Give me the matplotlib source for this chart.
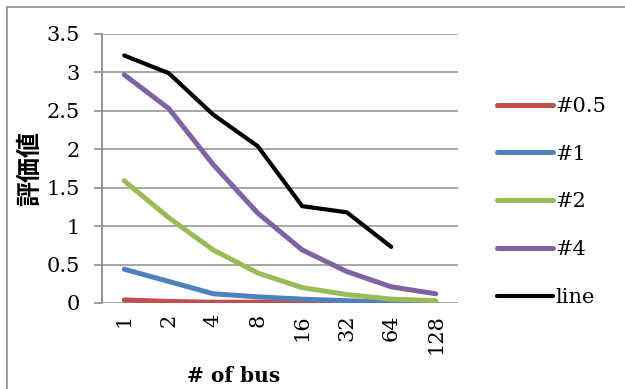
"""Evaluation value versus bus count for each setting."""

import matplotlib

matplotlib.use("Agg")
import matplotlib.pyplot as plt
from matplotlib.patches import Rectangle

bus_counts = ["1", "2", "4", "8", "16", "32", "64", "128"]
series_names = ["#0.5", "#1", "#2", "#4", "line"]
values_05 = [0.04, 0.02, 0.01, 0.01, 0.0, 0.0, 0.0, 0.0]
values_1 = [0.44, 0.28, 0.12, 0.08, 0.05, 0.03, 0.01, 0.01]
values_2 = [1.59, 1.11, 0.69, 0.39, 0.20, 0.11, 0.05, 0.03]
values_4 = [2.97, 2.53, 1.80, 1.17, 0.69, 0.41, 0.21, 0.12]
values_line = [3.22, 2.99, 2.45, 2.04, 1.26, 1.18, 0.73]

colors = ["#C0504D", "#4F81BD", "#9BBB59", "#8064A2", "#000000"]
widths = [3.6, 3.6, 3.6, 3.6, 3.0]

plt.rcParams["font.family"] = ["DejaVu Serif"]

fig = plt.figure(figsize=(6.25, 3.89), dpi=100)
ax = fig.add_axes([0.1632, 0.2211, 0.5696, 0.6915])

all_values = [values_05, values_1, values_2, values_4, values_line]
for name, vals, color, lw in zip(series_names, all_values, colors, widths):
    ax.plot(range(len(vals)), vals, color=color, lw=lw, label=name,
            solid_capstyle="round", solid_joinstyle="round", zorder=3)

ax.set_xlim(-0.5, len(bus_counts) - 0.5)
ax.set_ylim(0, 3.5)
ax.set_yticks([0, 0.5, 1, 1.5, 2, 2.5, 3, 3.5])
ax.set_yticklabels(["0", "0.5", "1", "1.5", "2", "2.5", "3", "3.5"], fontsize=15)
ax.set_xticks(range(len(bus_counts)))
ax.set_xticklabels(bus_counts, rotation=90, fontsize=15)
ax.tick_params(axis="x", length=0, pad=8)
ax.tick_params(axis="y", length=6, width=1.2, color="#8c8c8c", pad=10)

ax.grid(axis="y", color="#a0a0a0", lw=1.3, zorder=0)
for side in ["top", "right", "bottom"]:
    ax.spines[side].set_visible(False)
ax.spines["left"].set_color("#8c8c8c")
ax.spines["left"].set_linewidth(1.3)

fig.text(0.374, 0.033, "# of bus", ha="center", va="center",
         fontsize=14.5, fontweight="bold")
fig.text(0.048, 0.568, "評価値", ha="center", va="center", rotation=90,
         fontsize=18, fontweight="bold",
         family=["Noto Sans CJK JP", "DejaVu Sans"])

ax.legend(loc="center left", bbox_to_anchor=(0.795, 0.481),
          bbox_transform=fig.transFigure, frameon=False, fontsize=15,
          handlelength=2.7, handletextpad=0.12, labelspacing=1.38,
          borderpad=0, borderaxespad=0)

# chart area border (open at the right and bottom edges of the image)
fig.patches.append(Rectangle((7 / 625, -0.1), 1.2, 1 - 7 / 389 + 0.1,
                             transform=fig.transFigure, fill=False,
                             edgecolor="#8c8c8c", lw=1.2))

fig.savefig("out.png", dpi=100)
